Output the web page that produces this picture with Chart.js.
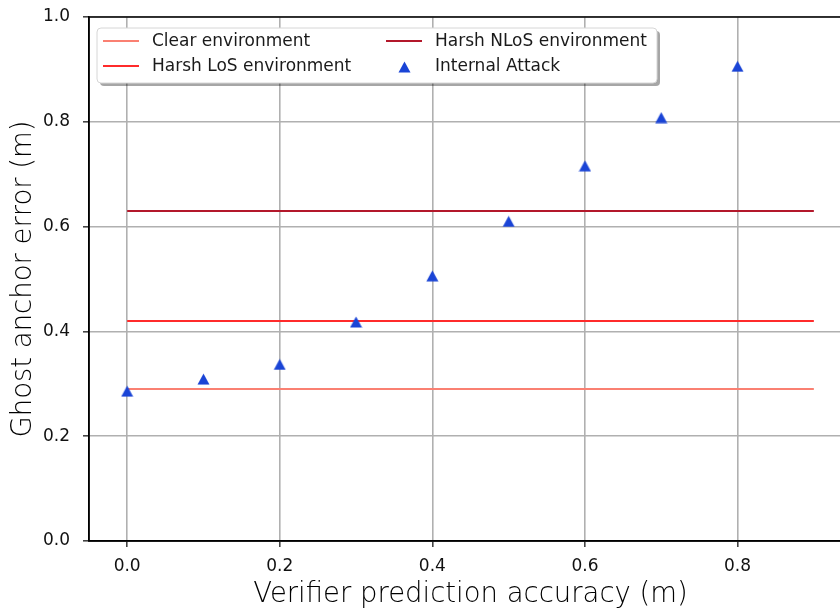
<!DOCTYPE html>
<html>
<head>
<meta charset="utf-8">
<script src="https://cdn.jsdelivr.net/npm/chart.js@4/dist/chart.umd.min.js"></script>
<style>
  html, body { margin: 0; padding: 0; background: #fff; overflow: hidden; }
  #wrap { width: 860px; height: 608px; }
</style>
</head>
<body>
<div id="wrap"><canvas id="ghostChart" width="860" height="608"></canvas></div>
<script>
"use strict";
// data
var accuracy = [0.0, 0.1, 0.2, 0.3, 0.4, 0.5, 0.6, 0.7, 0.8];
var internalAttack = [0.286, 0.309, 0.337, 0.418, 0.506, 0.61, 0.716, 0.808, 0.906];
var lineSpan = [0.0, 0.9];
var clearEnv = 0.29;
var harshLoS = 0.42;
var harshNLoS = 0.63;
var xTicks = [0.0, 0.2, 0.4, 0.6, 0.8];
var yTicks = [0.0, 0.2, 0.4, 0.6, 0.8, 1.0];

function flatLine(v) {
    return lineSpan.map(function(x) { return {x: x, y: v}; });
}

/* triangle marker centred on its bounding box, like matplotlib's '^' */
function triangleMarker(color) {
    var c = document.createElement('canvas');
    c.width = 13; c.height = 12;
    var g = c.getContext('2d');
    g.fillStyle = color;
    g.beginPath();
    g.moveTo(6.5, 0.5);
    g.lineTo(12.5, 11.5);
    g.lineTo(0.5, 11.5);
    g.closePath();
    g.fill();
    return c;
}

var attackColor = '#1a44d6';
var lineStyle = { showLine: true, pointRadius: 0, borderWidth: 2, order: 1 };

var datasets = [
    Object.assign({ label: "Clear environment", data: flatLine(clearEnv),
        borderColor: '#fa8072', backgroundColor: '#fa8072' }, lineStyle),
    Object.assign({ label: "Harsh LoS environment", data: flatLine(harshLoS),
        borderColor: '#ff2b2b', backgroundColor: '#ff2b2b' }, lineStyle),
    Object.assign({ label: "Harsh NLoS environment", data: flatLine(harshNLoS),
        borderColor: '#b3182b', backgroundColor: '#b3182b' }, lineStyle),
    {
        label: "Internal Attack",
        data: accuracy.map(function(x, i) { return {x: x, y: internalAttack[i]}; }),
        pointStyle: triangleMarker(attackColor),
        pointRadius: 7,
        pointHoverRadius: 7,
        backgroundColor: attackColor,
        order: 0
    }
];

/* frame + matplotlib-like legend */
var frameLegend = {
    id: 'frameLegend',
    afterDraw: function(chart) {
        var ctx = chart.ctx, a = chart.chartArea;
        ctx.save();
        ctx.strokeStyle = '#000';
        ctx.lineWidth = 1.5;
        ctx.strokeRect(a.left, a.top, a.right - a.left, a.bottom - a.top);

        var bx = a.left + 8, by = a.top + 11, bw = 560, bh = 55;
        function box(x, y) {
            ctx.beginPath();
            ctx.roundRect(x, y, bw, bh, 4);
        }
        box(bx + 3, by + 3);
        ctx.fillStyle = 'rgba(0,0,0,0.35)';
        ctx.fill();
        box(bx, by);
        ctx.fillStyle = '#fff';
        ctx.fill();
        ctx.strokeStyle = '#d6d6d6';
        ctx.lineWidth = 1;
        ctx.stroke();

        ctx.font = '17px "DejaVu Sans"';
        ctx.textBaseline = 'middle';
        var cols = [bx + 6, bx + 289];
        var rows = [by + 13, by + 38];
        chart.data.datasets.forEach(function(ds, i) {
            var hx = cols[Math.floor(i / 2)], hy = rows[i % 2];
            if (ds.showLine) {
                ctx.strokeStyle = ds.borderColor;
                ctx.lineWidth = 2;
                ctx.beginPath();
                ctx.moveTo(hx, hy);
                ctx.lineTo(hx + 36, hy);
                ctx.stroke();
            } else {
                ctx.drawImage(ds.pointStyle, hx + 12, hy - 5);
            }
            ctx.fillStyle = '#1a1a1a';
            ctx.fillText(ds.label, hx + 49, hy + 1);
        });
        ctx.restore();
    }
};

var titleFont = { family: 'DejaVu Sans', size: 27.5, weight: '200' };
var tickFont = { family: 'DejaVu Sans', size: 17 };

var ctx = document.getElementById("ghostChart").getContext('2d');
var ghostChart = new Chart(ctx, {
    type: 'scatter',
    data: { datasets: datasets },
    plugins: [frameLegend],
    options: {
        responsive: false,
        animation: false,
        layout: { padding: { top: 17, right: 8, left: 0, bottom: 0 } },
        plugins: { legend: { display: false }, tooltip: { enabled: false } },
        scales: {
            x: {
                type: 'linear',
                min: -0.05,
                max: 0.95,
                afterBuildTicks: function(s) { s.ticks = xTicks.map(function(v) { return {value: v}; }); },
                afterFit: function(s) { s.height = 67; },
                ticks: {
                    padding: 9,
                    color: '#111',
                    font: tickFont,
                    callback: function(v) { return Number(v).toFixed(1); }
                },
                grid: { color: '#b0b0b0', lineWidth: 1.6, tickLength: 6, tickColor: '#444' },
                border: { color: '#000', width: 1.5 },
                title: {
                    display: true,
                    text: 'Verifier prediction accuracy (m)',
                    color: '#000',
                    font: titleFont,
                    padding: { top: 0, bottom: -3 }
                }
            },
            y: {
                type: 'linear',
                min: 0,
                max: 1,
                afterBuildTicks: function(s) { s.ticks = yTicks.map(function(v) { return {value: v}; }); },
                afterFit: function(s) {
                    s.width = 89;
                    s.paddingTop = 0;
                    s.paddingBottom = 0;
                },
                ticks: {
                    padding: 13,
                    color: '#111',
                    font: tickFont,
                    callback: function(v) { return Number(v).toFixed(1); }
                },
                grid: { color: '#b0b0b0', lineWidth: 1.6, tickLength: 6, tickColor: '#444' },
                border: { color: '#000', width: 1.5 },
                title: {
                    display: true,
                    text: 'Ghost anchor error (m)',
                    color: '#000',
                    font: titleFont,
                    padding: { top: 7, bottom: 0 }
                }
            }
        }
    }
});
</script>
</body>
</html>
